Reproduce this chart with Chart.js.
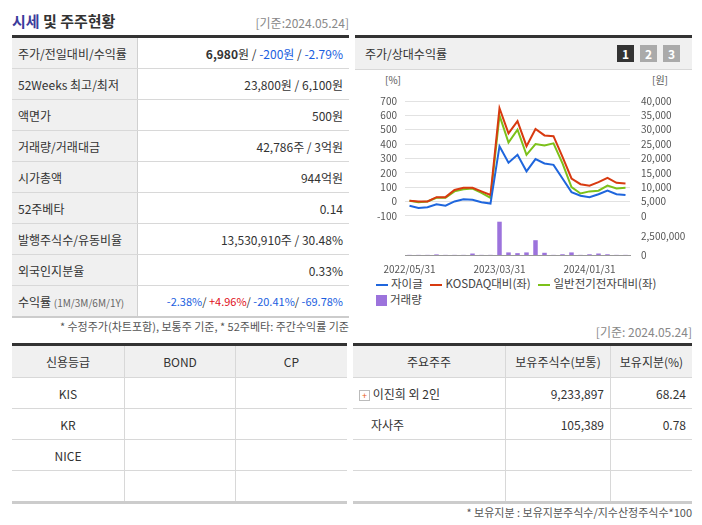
<!DOCTYPE html>
<html><head><meta charset="utf-8">
<script src="https://cdn.jsdelivr.net/npm/chart.js@4"></script>
<style>
body{margin:0;width:702px;height:525px;background:#fff;font-family:"Noto Sans CJK KR",sans-serif;font-size:12px;color:#333;position:relative;overflow:hidden}
.abs{position:absolute}
table{border-collapse:collapse;position:absolute;font-size:12px}
td{border-bottom:1px solid #d8d8d8;padding:0 6px;height:30px}
.info{left:12px;top:35px;width:337px;border-top:3px solid #333;border-bottom:2px solid #ccc}
.info td.l{background:#f0f0f0;width:113px;border-right:1px solid #d0d0d0}
.info td.v{text-align:right}
.blue{color:#1a5ee0}.red{color:#e0101a}
.g{border-top:3px solid #333;border-bottom:3px solid #ccc}
.g td{text-align:center;border-right:1px solid #d8d8d8}
.g td:last-child{border-right:none}
.g tr.h td{background:#f0f0f0;height:31px}
.btn{display:inline-block;width:17px;height:17px;color:#fff;font-weight:bold;text-align:center;line-height:17px;font-size:12px;margin-left:6px;background:#aaa}
.lg{font-size:11.5px;color:#444;line-height:17px;white-space:nowrap}
.sw{display:inline-block;width:12px;height:2px;vertical-align:middle;margin-right:3px}
</style></head><body>
<div class="abs" style="left:12px;top:10px;font-size:15px;font-weight:bold"><span style="color:#3c3c9c">시세</span> 및 주주현황</div>
<div class="abs" style="right:353px;top:14px;color:#888">[기준:2024.05.24]</div>
<table class="info">
<tr><td class="l">주가/전일대비/수익률</td><td class="v"><b>6,980</b>원 / <span class="blue">-200원</span> / <span class="blue">-2.79%</span></td></tr>
<tr><td class="l">52Weeks 최고/최저</td><td class="v">23,800원 / 6,100원</td></tr>
<tr><td class="l">액면가</td><td class="v">500원</td></tr>
<tr><td class="l">거래량/거래대금</td><td class="v">42,786주 / 3억원</td></tr>
<tr><td class="l">시가총액</td><td class="v">944억원</td></tr>
<tr><td class="l">52주베타</td><td class="v">0.14</td></tr>
<tr><td class="l">발행주식수/유동비율</td><td class="v">13,530,910주 / 30.48%</td></tr>
<tr><td class="l">외국인지분율</td><td class="v">0.33%</td></tr>
<tr><td class="l">수익률 <span style="font-size:10px;color:#666">(1M/3M/6M/1Y)</span></td><td class="v" style="font-size:11px"><span class="blue">-2.38%</span>/ <span class="red">+4.96%</span>/ <span class="blue">-20.41%</span>/ <span class="blue">-69.78%</span></td></tr>
</table>
<div class="abs" style="right:353px;top:318px;color:#555;font-size:11px">* 수정주가(차트포함), 보통주 기준, * 52주베타: 주간수익률 기준</div>

<div class="abs" style="left:355px;top:35px;width:337px;height:31px;border-top:3px solid #333;background:#f0f0f0;border-bottom:1px solid #d8d8d8">
<span class="abs" style="left:10px;top:7px">주가/상대수익률</span>
<span class="abs" style="right:12px;top:7px"><span class="btn" style="background:#333">1</span><span class="btn">2</span><span class="btn">3</span></span>
</div>
<div class="abs" style="left:385px;top:72px;font-size:10px;color:#555">[%]</div>
<div class="abs" style="left:652px;top:72px;font-size:10px;color:#555">[원]</div>
<div class="abs" style="left:362px;top:87px;width:330px;height:188px"><canvas id="c"></canvas></div>
<div class="abs lg" style="left:376px;top:275px">
<span class="sw" style="background:#1f66dd"></span>자이글&nbsp;&nbsp;
<span class="sw" style="background:#d83a10"></span>KOSDAQ대비(좌)&nbsp;&nbsp;
<span class="sw" style="background:#7cc11a"></span>일반전기전자대비(좌)</div>
<div class="abs lg" style="left:376px;top:291px"><span style="display:inline-block;width:11px;height:11px;background:#9c73dc;vertical-align:middle;margin-right:3px"></span>거래량</div>
<div class="abs" style="right:10px;top:323px;color:#888">[기준: 2024.05.24]</div>

<table class="g" style="left:12px;top:343px;width:335px">
<tr class="h"><td style="width:100px">신용등급</td><td style="width:98px">BOND</td><td>CP</td></tr>
<tr><td>KIS</td><td></td><td></td></tr>
<tr><td>KR</td><td></td><td></td></tr>
<tr><td>NICE</td><td></td><td></td></tr>
<tr><td></td><td></td><td></td></tr>
</table>
<table class="g" style="left:353px;top:343px;width:339px">
<tr class="h"><td style="width:140px">주요주주</td><td style="width:92px">보유주식수(보통)</td><td>보유지분(%)</td></tr>
<tr><td style="text-align:left"><span style="display:inline-block;width:9px;height:9px;border:1px solid #bbb;color:#e8601a;font-size:9px;line-height:9px;text-align:center">+</span> 이진희 외 2인</td><td style="text-align:right">9,233,897</td><td style="text-align:right">68.24</td></tr>
<tr><td style="text-align:left;padding-left:18px">자사주</td><td style="text-align:right">105,389</td><td style="text-align:right">0.78</td></tr>
<tr><td></td><td></td><td></td></tr>
<tr><td></td><td></td><td></td></tr>
</table>
<div class="abs" style="right:10px;top:504px;color:#555;font-size:11px">* 보유지분 : 보유지분주식수/지수산정주식수*100</div>

<script>
// 월말 기준 (2022/05 ~ 2024/05)
const labels = ['2022/05/31','2022/06/30','2022/07/31','2022/08/31','2022/09/30','2022/10/31','2022/11/30','2022/12/31',
  '2023/01/31','2023/02/28','2023/03/31','2023/04/30','2023/05/31','2023/06/30','2023/07/31','2023/08/31','2023/09/30',
  '2023/10/31','2023/11/30','2023/12/31','2024/01/31','2024/02/29','2024/03/31','2024/04/30','2024/05/24'];
const tickLabels = ['2022/05/31','2023/03/31','2024/01/31'];
const jaigle = [-30,-45,-40,-20,-30,0,15,12,-5,-15,385,270,325,210,295,265,255,160,65,40,30,50,75,50,45];
const kosdaq = [5,0,0,30,30,80,95,95,70,45,650,475,560,385,505,460,455,310,160,120,110,135,165,130,125];
const sector = [5,-5,0,25,25,70,85,90,60,25,600,410,500,325,400,390,405,265,100,55,70,75,110,90,95];
const volume = [20000,20000,20000,80000,20000,20000,20000,200000,20000,20000,4500000,350000,250000,350000,2000000,300000,20000,100000,350000,20000,100000,200000,100000,20000,20000];
const volumeTicks = [0, 2500000];

// 아래쪽 거래량 영역: % 축 -100 아래로 41px (주 영역 120px)
const pctMin = -100, pctMax = 700;
const axisMin = pctMin - (pctMax - pctMin) * 41 / 120;
const wonPerPct = 40000 / (pctMax - pctMin);
const wonMin = (axisMin - pctMin) * wonPerPct;
const volMax = 5300000;
const volToWon = v => wonMin + (v / volMax) * (0 - wonMin);
const volAxisMax = volMax * (40000 - wonMin) / (0 - wonMin);

const tickFont = {size: 10, family: 'Noto Sans CJK KR'};
const line = (data, color) => ({type: 'line', data, borderColor: color, borderWidth: 2, pointRadius: 0, tension: 0, yAxisID: 'y'});

new Chart(document.getElementById('c'), {
  data: {
    labels,
    datasets: [
      line(jaigle, '#1f66dd'),
      line(kosdaq, '#d83a10'),
      line(sector, '#7cc11a'),
      {type: 'bar', data: volume, backgroundColor: '#9c73dc', yAxisID: 'yv', barPercentage: 0.5, categoryPercentage: 1}
    ]
  },
  options: {
    responsive: true, maintainAspectRatio: false, animation: false,
    plugins: {legend: {display: false}, tooltip: {enabled: false}},
    layout: {padding: {top: 6}},
    scales: {
      x: {
        grid: {display: false}, border: {color: '#999'},
        ticks: {font: tickFont, color: '#555', autoSkip: false, maxRotation: 0, padding: 0,
          callback: function (v) { const l = labels[v]; return tickLabels.includes(l) ? l : ''; }}
      },
      y: {
        position: 'left', min: axisMin, max: pctMax,
        afterBuildTicks: s => { s.ticks = []; for (let v = pctMin; v <= pctMax; v += 100) s.ticks.push({value: v}); },
        grid: {color: '#e2e2e2', drawTicks: false}, border: {display: false},
        ticks: {font: tickFont, color: '#555', autoSkip: false, padding: 8}, afterFit: s => { s.width = 43; }
      },
      y2: {
        position: 'right', min: wonMin, max: 40000,
        afterBuildTicks: s => {
          s.ticks = volumeTicks.map(v => ({value: volToWon(v), vol: v}));
          for (let v = 0; v <= 40000; v += 5000) s.ticks.push({value: v});
        },
        grid: {display: false}, border: {display: false},
        ticks: {font: tickFont, color: '#555', autoSkip: false, padding: 3,
          callback: function (v, i, ticks) { const t = ticks[i]; return (t.vol !== undefined ? t.vol : v).toLocaleString(); }},
        afterFit: s => { s.width = 62; }
      },
      yv: {display: false, min: 0, max: volAxisMax}
    }
  }
});
</script>
</body></html>
